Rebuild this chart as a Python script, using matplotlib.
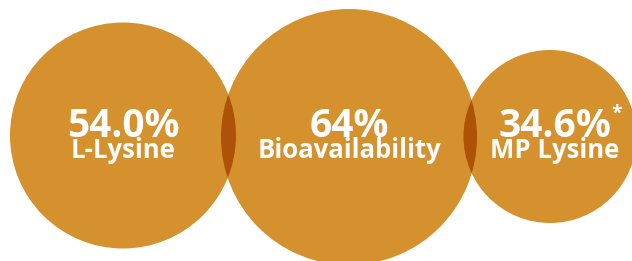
import matplotlib
matplotlib.use("Agg")
import matplotlib.pyplot as plt
from matplotlib.patches import Circle

# data
values = ["54.0%", "64%", "34.6%"]
labels = ["L-Lysine", "Bioavailability", "MP Lysine"]
notes = ["", "", "*"]

# layout (pixels)
centers = [(123, 135.5), (349, 137), (550, 136.5)]
radii = [113, 128, 86.5]
text_x = [123, 349, 555]

orange = "#D4912D"
dark = "#AE5207"

fig = plt.figure(figsize=(6.32, 2.61), dpi=100)
ax = fig.add_axes([0, 0, 1, 1])
ax.set_xlim(0, 632)
ax.set_ylim(261, 0)
ax.set_aspect("equal")
ax.axis("off")

circles = []
for (cx, cy), r in zip(centers, radii):
    c = Circle((cx, cy), r, facecolor=orange, edgecolor="none", zorder=1)
    ax.add_patch(c)
    circles.append(c)

# darker lens where neighbours overlap
for i in range(len(circles) - 1):
    (cx, cy), r = centers[i + 1], radii[i + 1]
    lens = Circle((cx, cy), r, facecolor=dark, edgecolor="none", zorder=2)
    ax.add_patch(lens)
    lens.set_clip_path(circles[i])

font = ["Open Sans", "DejaVu Sans"]
for tx, v, lab, n in zip(text_x, values, labels, notes):
    ax.text(tx, 137, v, ha="center", va="baseline", color="white",
            fontsize=28, fontweight="bold", family=font, zorder=3)
    ax.text(tx, 158, lab, ha="center", va="baseline", color="white",
            fontsize=18.5, fontweight="bold", family=font, zorder=3)
    if n:
        ax.text(tx + 56, 119, n, ha="left", va="baseline", color="white",
                fontsize=14, fontweight="bold", family=font, zorder=3)

fig.savefig("out.png", dpi=100)
